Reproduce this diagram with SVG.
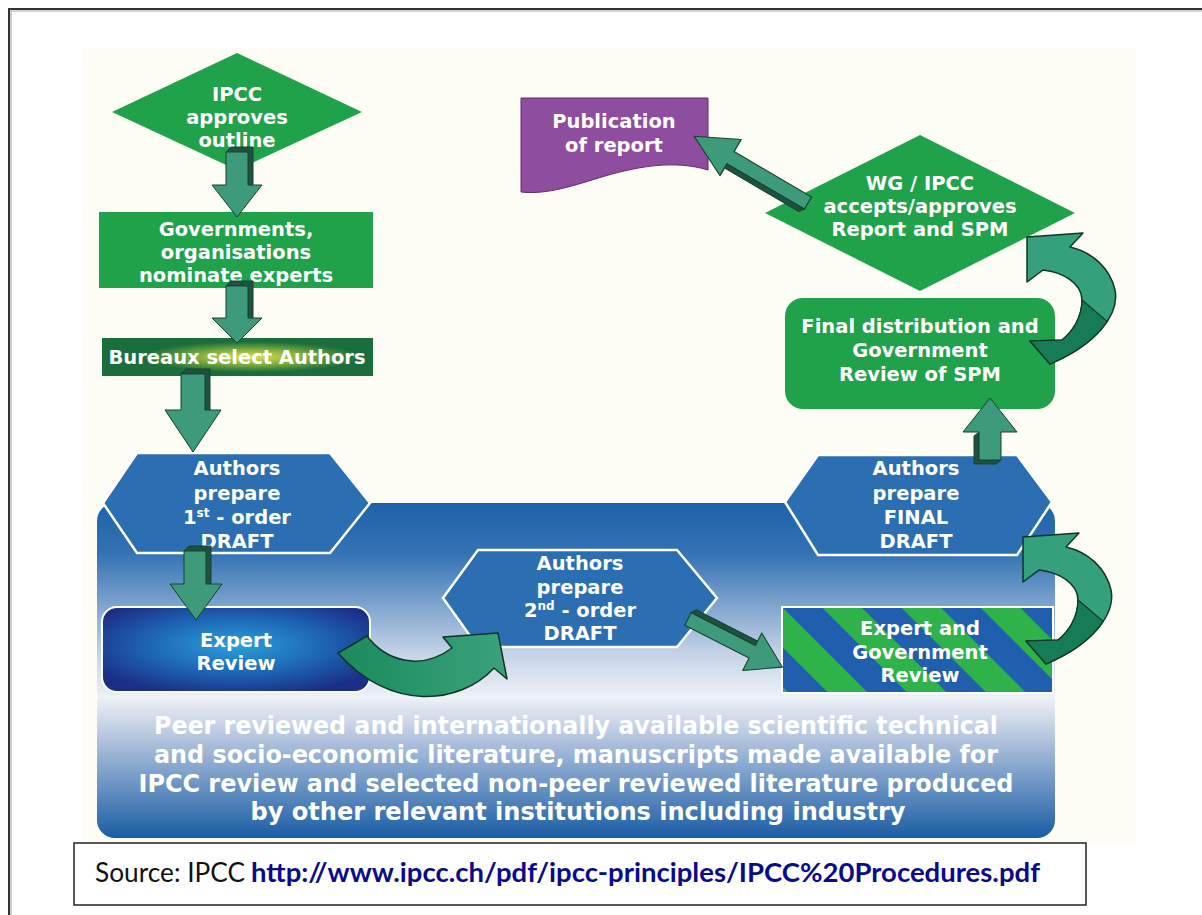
<svg xmlns="http://www.w3.org/2000/svg" width="1202" height="915" viewBox="0 0 1202 915">
<defs>
<style>
.lbl{font-family:"DejaVu Sans","Liberation Sans",sans-serif;font-weight:bold;font-size:19.5px;fill:#fff;text-anchor:middle}
.big{font-family:"DejaVu Sans Condensed","DejaVu Sans","Liberation Sans",sans-serif;font-weight:bold;font-size:24px;fill:#fff;text-anchor:middle}
.src{font-family:Lato,"Liberation Sans",sans-serif;font-size:26px}
.green{fill:#20a24b}
.hex{fill:#2c6eb2;stroke:#fff;stroke-width:2.5}
.face{fill:#3d9a7a;stroke:#17402f;stroke-width:1;stroke-linejoin:round}
.side{fill:#1d5240;stroke:#17402f;stroke-width:1}
.curv{fill:#35a07c;stroke:#0f3527;stroke-width:1.5;stroke-linejoin:round}
.curvDark{fill:#167c56;stroke:#0f3527;stroke-width:1.2;stroke-linejoin:round}
</style>
<linearGradient id="panelGrad" x1="0" y1="0" x2="0" y2="1">
<stop offset="0" stop-color="#1f62a9"/>
<stop offset="0.15" stop-color="#3372b4"/>
<stop offset="0.45" stop-color="#c5d3e7"/>
<stop offset="0.58" stop-color="#eef1f6"/>
<stop offset="0.7" stop-color="#b4c5df"/>
<stop offset="1" stop-color="#1a5da5"/>
</linearGradient>
<radialGradient id="expertGrad" cx="0.5" cy="0.45" r="0.6">
<stop offset="0" stop-color="#2aa0dc"/>
<stop offset="0.6" stop-color="#1d5fb0"/>
<stop offset="1" stop-color="#1b2f86"/>
</radialGradient>
<radialGradient id="glow" cx="0.55" cy="0.5" r="0.4">
<stop offset="0" stop-color="#d9e04c"/>
<stop offset="0.5" stop-color="#7fae3e"/>
<stop offset="1" stop-color="#1a6e3c"/>
</radialGradient>
<linearGradient id="curvA" x1="0" y1="0" x2="1" y2="0">
<stop offset="0" stop-color="#1b8a5c"/>
<stop offset="1" stop-color="#3aa27c"/>
</linearGradient>
<pattern id="stripes" patternUnits="userSpaceOnUse" width="56" height="10" patternTransform="translate(782,607) rotate(-45)">
<rect x="0" y="0" width="28" height="10" fill="#1f5fae"/>
<rect x="28" y="0" width="28" height="10" fill="#2db34a"/>
</pattern>
<g id="curvArrow">
<path class="curv" d="M23,127 C68,108 93,78 88,53 C83,31 65,15 43,10 L56,-4 L0,0 L0,45 L16,33 C35,35 55,46 55,63 C55,81 45,95 35,103 L3,104 Z"/>
<path class="curvDark" d="M23,127 C50,115.6 69.8,100.2 80.2,84.4 L55,63 C55,81 45,95 35,103 L3,104 Z"/>
</g>
<g id="straightArrow">
<path class="side" d="M0,-7 L3,-12 L71,-12 L68,-7 Z"/>
<path class="face" d="M0,-7 H68 V-21 L100,0 L68,21 V7 H0 Z"/>
</g>
</defs>

<rect x="0" y="0" width="1202" height="915" fill="#ffffff"/>
<path d="M9,915 V9 H1202" fill="none" stroke="#333" stroke-width="2"/>
<path d="M11,915 V11 H1202" fill="none" stroke="#aaa" stroke-width="1.2"/>
<rect x="83" y="48" width="1053" height="795" fill="#fdfdf5"/>

<g id="panel">
<rect x="97" y="503" width="958" height="335" rx="18" fill="url(#panelGrad)"/>
<text class="big" x="576" y="734" textLength="844" lengthAdjust="spacingAndGlyphs">Peer reviewed and internationally available scientific technical</text>
<text class="big" x="576" y="763" textLength="844" lengthAdjust="spacingAndGlyphs">and socio-economic literature, manuscripts made available for</text>
<text class="big" x="576" y="792" textLength="875" lengthAdjust="spacingAndGlyphs">IPCC review and selected non-peer reviewed literature produced</text>
<text class="big" x="578" y="820" textLength="655" lengthAdjust="spacingAndGlyphs">by other relevant institutions including industry</text>
</g>

<g id="n-ipcc-outline">
<polygon class="green" points="237,53 362,112 237,170 112,112"/>
<text class="lbl" x="237" y="101">IPCC</text>
<text class="lbl" x="237" y="124">approves</text>
<text class="lbl" x="237" y="147">outline</text>
</g>

<g id="n-governments">
<rect class="green" x="99" y="212" width="274" height="76"/>
<text class="lbl" x="236" y="236">Governments,</text>
<text class="lbl" x="236" y="259">organisations</text>
<text class="lbl" x="236" y="282">nominate experts</text>
</g>

<g id="n-bureaux">
<rect x="102" y="338" width="271" height="38" fill="url(#glow)"/>
<text class="lbl" x="237" y="364">Bureaux select Authors</text>
</g>

<g id="n-draft1">
<polygon class="hex" points="103,503 137,453 330,453 370,503 330,553 137,553"/>
<text class="lbl" x="237" y="475">Authors</text>
<text class="lbl" x="237" y="500">prepare</text>
<text class="lbl" x="237" y="524">1<tspan dy="-7" font-size="12">st</tspan><tspan dy="7"> - order</tspan></text>
<text class="lbl" x="237" y="548">DRAFT</text>
</g>

<g id="n-expert-review">
<rect x="102" y="607" width="268" height="85" rx="15" fill="url(#expertGrad)" stroke="#fff" stroke-width="2"/>
<text class="lbl" x="236" y="647">Expert</text>
<text class="lbl" x="236" y="670">Review</text>
</g>

<g id="n-draft2">
<polygon class="hex" points="443,598 478,550 677,550 717,598 677,647 478,647"/>
<text class="lbl" x="580" y="570">Authors</text>
<text class="lbl" x="580" y="594">prepare</text>
<text class="lbl" x="580" y="617">2<tspan dy="-7" font-size="12">nd</tspan><tspan dy="7"> - order</tspan></text>
<text class="lbl" x="580" y="640">DRAFT</text>
</g>

<g id="n-expert-gov-review">
<rect x="782" y="607" width="271" height="86" fill="url(#stripes)" stroke="#fff" stroke-width="2"/>
<text class="lbl" x="920" y="635">Expert and</text>
<text class="lbl" x="920" y="659">Government</text>
<text class="lbl" x="920" y="682">Review</text>
</g>

<g id="n-final-draft">
<polygon class="hex" points="785,502 818,455 1017,455 1052,502 1017,555 818,555"/>
<text class="lbl" x="916" y="475">Authors</text>
<text class="lbl" x="916" y="500">prepare</text>
<text class="lbl" x="916" y="524">FINAL</text>
<text class="lbl" x="916" y="548">DRAFT</text>
</g>

<g id="n-final-distribution">
<rect class="green" x="785" y="298" width="270" height="111" rx="18"/>
<text class="lbl" x="920" y="333">Final distribution and</text>
<text class="lbl" x="920" y="357">Government</text>
<text class="lbl" x="920" y="381">Review of SPM</text>
</g>

<g id="n-wg-approves">
<polygon class="green" points="920,135 1075,213 920,291 765,213"/>
<text class="lbl" x="920" y="190">WG / IPCC</text>
<text class="lbl" x="920" y="213">accepts/approves</text>
<text class="lbl" x="920" y="236">Report and SPM</text>
</g>

<g id="n-publication">
<path d="M521,98 H708 V170 C675,160 640,166 605,176 C575,185 548,195 521,192 Z" fill="#8f4d9f" stroke="#5a2f66" stroke-width="1"/>
<text class="lbl" x="614" y="128">Publication</text>
<text class="lbl" x="614" y="152">of report</text>
</g>

<g id="connectors">
<path class="side" d="M226,152 L231,147 L253,147 L253,188 L248,188 Z"/>
<path class="face" d="M226,152 H248 V185 H262 L237,217 L212,185 H226 Z"/>
<path class="side" d="M226,286 L231,281 L253,281 L253,321 L248,321 Z"/>
<path class="face" d="M226,286 H248 V318 H262 L237,343 L212,318 H226 Z"/>
<path class="side" d="M181,374 L186,369 L210,369 L210,413 L205,413 Z"/>
<path class="face" d="M181,374 H205 V410 H221 L193,452 L165,410 H181 Z"/>
<path class="side" d="M184,551 L189,546 L211,546 L211,587 L206,587 Z"/>
<path class="face" d="M184,551 H206 V584 H222 L196,620 L170,584 H184 Z"/>
<path class="curv" style="fill:url(#curvA)" d="M338,653 L367,636 C385,660 420,672 452,648 L443,637 L498,633 L507,679 L494,668 C460,705 390,712 338,653 Z"/>
<use href="#straightArrow" transform="translate(688,619) rotate(27) scale(1.06,1)"/>
<use href="#curvArrow" transform="translate(1023,537)"/>
<path class="side" d="M974,436 V464 H996 L1001,460 H979 V432 Z"/>
<path class="face" d="M979,460 V432 H963 L990,398 L1017,432 H1001 V460 Z"/>
<use href="#curvArrow" transform="translate(1027,237)"/>
<use href="#straightArrow" transform="translate(808,203) rotate(210.4) scale(1.32,1)"/>
</g>

<g id="source">
<rect x="74" y="843" width="1012" height="62" fill="#fff" stroke="#222" stroke-width="1.5"/>
<text class="src" x="95" y="882" fill="#111" textLength="150" lengthAdjust="spacingAndGlyphs">Source: IPCC</text>
<text class="src" x="251" y="882" fill="#0a0a8c" font-weight="bold" textLength="789" lengthAdjust="spacingAndGlyphs">http://www.ipcc.ch/pdf/ipcc-principles/IPCC%20Procedures.pdf</text>
</g>
</svg>
